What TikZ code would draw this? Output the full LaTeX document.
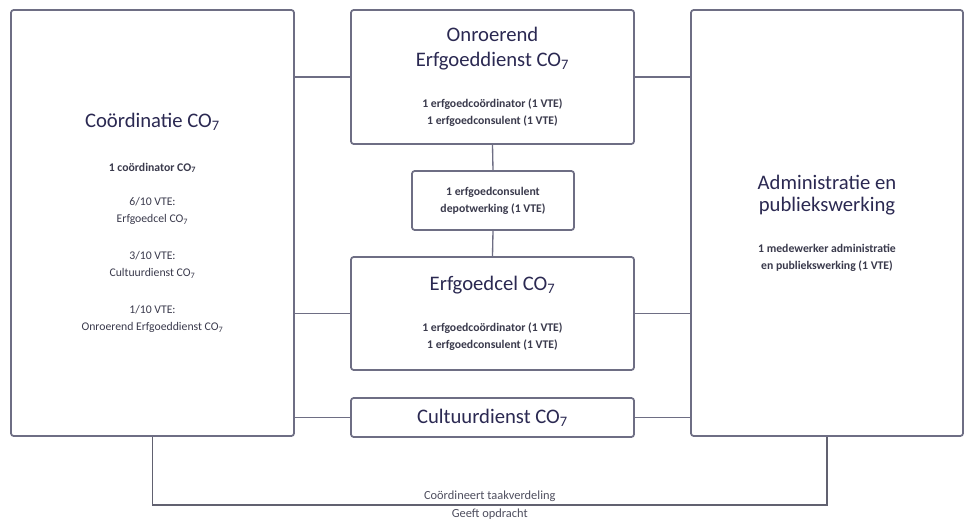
\documentclass[tikz,border=0pt]{standalone}
\usepackage{fontspec}
\setmainfont{Carlito}
\usetikzlibrary{calc,positioning}

\definecolor{boxline}{HTML}{6E6E84}
\definecolor{titleblue}{HTML}{2B2952}
\definecolor{bodygrey}{HTML}{3A3A4C}

\tikzset{
  orgbox/.style={draw=boxline, line width=1.3pt, rounded corners=2pt, fill=white,
    align=center, inner sep=0pt, text=bodygrey, font=\fontsize{8.8}{12.75}\selectfont},
  orglink/.style={draw=boxline, line width=1pt},
  botlabel/.style={text=bodygrey!90, font=\fontsize{9.3}{11}\selectfont, inner sep=2.5pt},
}
\newcommand{\ttl}[1]{{\fontsize{15.5}{17}\selectfont\color{titleblue}#1}}
\newcommand{\bld}[1]{{\bfseries #1}}
\newcommand{\COs}{CO\textsubscript{7}}

\begin{document}
\begin{tikzpicture}[x=0.75pt,y=-0.75pt]
\useasboundingbox (0,0) rectangle (965,521);

% boxes
\node[orgbox, minimum width=212.25pt, minimum height=319.5pt] (nCoord) at (152.5,223)
  {\ttl{Coördinatie \COs}\\[20pt]
   \bld{1 coördinator \COs}\\[13pt]
   6/10 VTE:\\ Erfgoedcel \COs\\[15pt]
   3/10 VTE:\\ Cultuurdienst \COs\\[15pt]
   1/10 VTE:\\ Onroerend Erfgoeddienst \COs};

\node[orgbox, minimum width=212.25pt, minimum height=100.5pt] (nOnroer) at (492.5,77)
  {\ttl{Onroerend}\\[6pt]
   \ttl{Erfgoeddienst \COs}\\[18pt]
   \bld{1 erfgoedcoördinator (1 VTE)}\\
   \bld{1 erfgoedconsulent (1 VTE)}};

\node[orgbox, minimum width=121.5pt, minimum height=44.25pt] (nDepot) at (493,200.5)
  {\bld{1 erfgoedconsulent}\\ \bld{depotwerking (1 VTE)}};

\node[orgbox, minimum width=212.25pt, minimum height=84.75pt] (nErfcel) at (492.5,313.5)
  {\ttl{Erfgoedcel \COs}\\[18pt]
   \bld{1 erfgoedcoördinator (1 VTE)}\\
   \bld{1 erfgoedconsulent (1 VTE)}};

\node[orgbox, minimum width=212.25pt, minimum height=29.25pt] (nCultuur) at (492.5,417.5)
  {\ttl{Cultuurdienst \COs}};

\node[orgbox, minimum width=204pt, minimum height=319.5pt] (nAdmin) at (827,223)
  {\ttl{Administratie en}\\[4pt]
   \ttl{publiekswerking}\\[18pt]
   \bld{1 medewerker administratie}\\
   \bld{en publiekswerking (1 VTE)}};

% links
\foreach \n in {nOnroer, nErfcel, nCultuur}
{
    \draw[orglink] (\n.west -| nCoord.east) -- (\n.west);
    \draw[orglink] (\n.east) -- (\n.east -| nAdmin.west);
};
\draw[orglink] (nOnroer.south) -- (nDepot.north);
\draw[orglink] (nDepot.south) -- (nErfcel.north);

% bottom connection
\coordinate (cBotL) at ($(nCoord.south)+(0,68)$);
\coordinate (cBotR) at (cBotL -| nAdmin.south);
\draw[orglink, draw=bodygrey!80] (nCoord.south) -- (cBotL) -- (cBotR) -- (nAdmin.south);
\node[botlabel, above] (nTaak) at ($(cBotL)!0.5!(cBotR)$) {Coördineert taakverdeling};
\node[botlabel, below] (nOpdr) at ($(cBotL)!0.5!(cBotR)$) {Geeft opdracht};

\end{tikzpicture}
\end{document}
